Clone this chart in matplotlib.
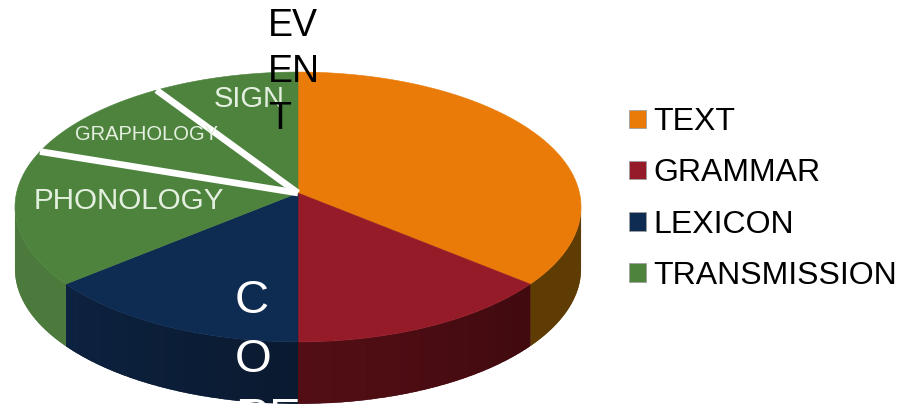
import numpy as np
import matplotlib
matplotlib.use('Agg')
import matplotlib.pyplot as plt
from matplotlib.patches import Polygon, Patch
from matplotlib.colors import to_rgb

plt.rcParams['font.family'] = ['Liberation Sans', 'DejaVu Sans']

# data (percent of the pie, clockwise from the top)
categories = ['TEXT', 'GRAMMAR', 'LEXICON', 'TRANSMISSION']
shares = [36, 14, 14, 36]
transmission_parts = ['PHONOLOGY', 'GRAPHOLOGY', 'SIGN']
part_shares = [16.2, 10.6, 9.2]

top_colors = ['#eb7b08', '#941b27', '#0e2b51', '#4e833e']
wall_start = ['#5f3c03', '#400a0f', '#0a1a30', '#4c7a3c']
wall_end = ['#5f3c03', '#530e15', '#0d2240', '#4c7a3c']

# pie geometry in pixels, the tilt gives the apex its offset from the ellipse centre
cx, cy = 298, 193
a, b, k = 281.5, 133.5, 0.1037
depth = 62


def project(t):
    s = np.sin(t)
    d = 1 + k*s
    return cx + a*np.cos(t)/d, cy - b*s/d


def share_to_angle(p):
    return np.pi/2 - 2*np.pi*p/100


def wall_points(t0, t1):
    x, y = project(np.linspace(t0, t1, 60))
    return np.r_[np.c_[x, y], np.c_[x, y + depth][::-1]]


fig = plt.figure(figsize=(9.12, 4.08), dpi=100)
ax = fig.add_axes([0, 0, 1, 1])
ax.set_xlim(0, 912)
ax.set_ylim(408, 0)
ax.axis('off')

# side wall: a base piece in the mean colour, then strips for the shading
edges = np.cumsum([0] + shares)
wall_from = np.deg2rad(-6)
wall_to = np.deg2rad(-174)
for n in range(len(categories)):
    t0 = min(share_to_angle(edges[n]), wall_from)
    t1 = max(share_to_angle(edges[n+1]), wall_to)
    if t1 >= t0:
        continue
    c0 = np.array(to_rgb(wall_start[n]))
    c1 = np.array(to_rgb(wall_end[n]))
    ax.add_patch(Polygon(wall_points(t0, t1), closed=True, fc=(c0 + c1)/2, lw=0))
    cuts = np.linspace(t0, t1, 25)
    for j in range(24):
        col = c0 + (c1 - c0)*j/23
        # inset a touch so the strips do not fray the outer edge
        pts = wall_points(cuts[j], cuts[j+1])
        pts[:, 1] = np.clip(pts[:, 1], None, pts[:, 1].max() - 0.5)
        ax.add_patch(Polygon(pts, closed=True, fc=col, lw=0))

# top face
for n in range(len(categories)):
    t = np.linspace(share_to_angle(edges[n]), share_to_angle(edges[n+1]), 120)
    x, y = project(t)
    pts = np.r_[[[cx, cy]], np.c_[x, y]]
    ax.add_patch(Polygon(pts, closed=True, fc=top_colors[n], ec=top_colors[n], lw=0.4))

# white cuts inside TRANSMISSION
start = edges[3]
for p in np.cumsum(part_shares)[:-1]:
    x, y = project(share_to_angle(start + p))
    ax.plot([cx, x], [cy, y], color='white', lw=4.8, solid_capstyle='butt')

label_col = '#e4f0df'
ax.text(128.5, 201, transmission_parts[0], color=label_col, fontsize=21.3, ha='center', va='center')
ax.text(146.5, 135, transmission_parts[1], color=label_col, fontsize=14.5, ha='center', va='center')
ax.text(249, 99, transmission_parts[2], color=label_col, fontsize=21, ha='center', va='center')
ax.text(268, 8, 'EV\nEN\nT', color='black', fontsize=27, ha='left', va='top', linespacing=1.37)
ax.text(235, 279, 'C\nO\nRE', color='white', fontsize=34, ha='left', va='top', linespacing=1.44)

handles = [Patch(fc=c, ec='#a0a0a0', lw=0.6) for c in top_colors]
ax.legend(handles, categories, loc='center left', bbox_to_anchor=(629, 199),
          bbox_transform=ax.transData, frameon=False, fontsize=23, borderpad=0,
          borderaxespad=0, labelspacing=0.66, handlelength=0.52, handleheight=0.52,
          handletextpad=0.24)

fig.savefig('out.png', dpi=100)
